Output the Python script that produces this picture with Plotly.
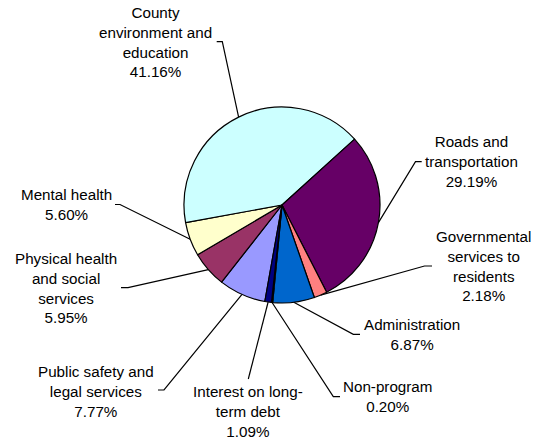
import math
import plotly.graph_objects as go

# ---- data ----
categories = [
    "Public safety and<br>legal services",
    "Physical health<br>and social<br>services",
    "Mental health",
    "County<br>environment and<br>education",
    "Roads and<br>transportation",
    "Governmental<br>services to<br>residents",
    "Administration",
    "Non-program",
    "Interest on long-<br>term debt",
]
values = [7.77, 5.95, 5.60, 41.16, 29.19, 2.18, 6.87, 0.20, 1.09]
colors = ["#9999FF", "#993366", "#FFFFCC", "#CCFFFF", "#660066",
          "#FF8080", "#0066CC", "#CCCCFF", "#000080"]

# ---- layout (pixel positions of label blocks) ----
W, H = 536, 440
CX, CY, R = 282, 205, 98
START_DEG = 190.1  # clockwise from 12 o'clock, start of first slice
label_center = [(96.3, 391), (65.8, 288), (66, 204.7), (155, 42), (471, 161.7),
                (483.3, 266.3), (412.2, 334.7), (387.5, 396.3), (248.3, 411.5)]
label_anchor = [(158, 390), (121, 287.7), (115, 204.5), (216.7, 41.7), (421.7, 161.7),
                (432, 266), (360, 334.3), (340, 396.7), (248.3, 379)]
label_elbow = [(164, 390), (128, 287.7), (120, 204.5), (222.3, 41.7), (415.5, 161.7),
               (424.5, 266), (353.3, 334.3), (333.3, 396.7), (249.3, 375)]

fig = go.Figure()

fig.add_trace(go.Pie(
    labels=[c.replace("<br>", " ") for c in categories],
    values=values,
    sort=False,
    direction="clockwise",
    rotation=START_DEG - 360,
    marker=dict(colors=colors, line=dict(color="black", width=1.2)),
    textinfo="none",
    hoverinfo="label+percent",
    showlegend=False,
    domain=dict(x=[(CX - R) / W, (CX + R) / W], y=[1 - (CY + R) / H, 1 - (CY - R) / H]),
))

total = sum(values)
cum = 0.0
for i, v in enumerate(values):
    mid = math.radians(START_DEG + (cum + v / 2) / total * 360)
    cum += v
    ex = CX + R * math.sin(mid)
    ey = CY - R * math.cos(mid)
    fig.add_trace(go.Scatter(
        x=[ex, label_elbow[i][0], label_anchor[i][0]],
        y=[ey, label_elbow[i][1], label_anchor[i][1]],
        mode="lines", line=dict(color="black", width=1.2),
        hoverinfo="skip", showlegend=False,
    ))
    fig.add_annotation(
        x=label_center[i][0], y=label_center[i][1], xref="x", yref="y",
        text=f"{categories[i]}<br>{v:.2f}%", showarrow=False,
        xanchor="center", yanchor="middle", align="center",
        font=dict(family="Liberation Sans, Arial", size=15.2, color="black"),
    )

fig.update_layout(
    width=W, height=H,
    margin=dict(l=0, r=0, t=0, b=0),
    paper_bgcolor="white", plot_bgcolor="rgba(0,0,0,0)",
    xaxis=dict(range=[0, W], visible=False, fixedrange=True),
    yaxis=dict(range=[H, 0], visible=False, fixedrange=True),
)

fig.write_html("out.html")
